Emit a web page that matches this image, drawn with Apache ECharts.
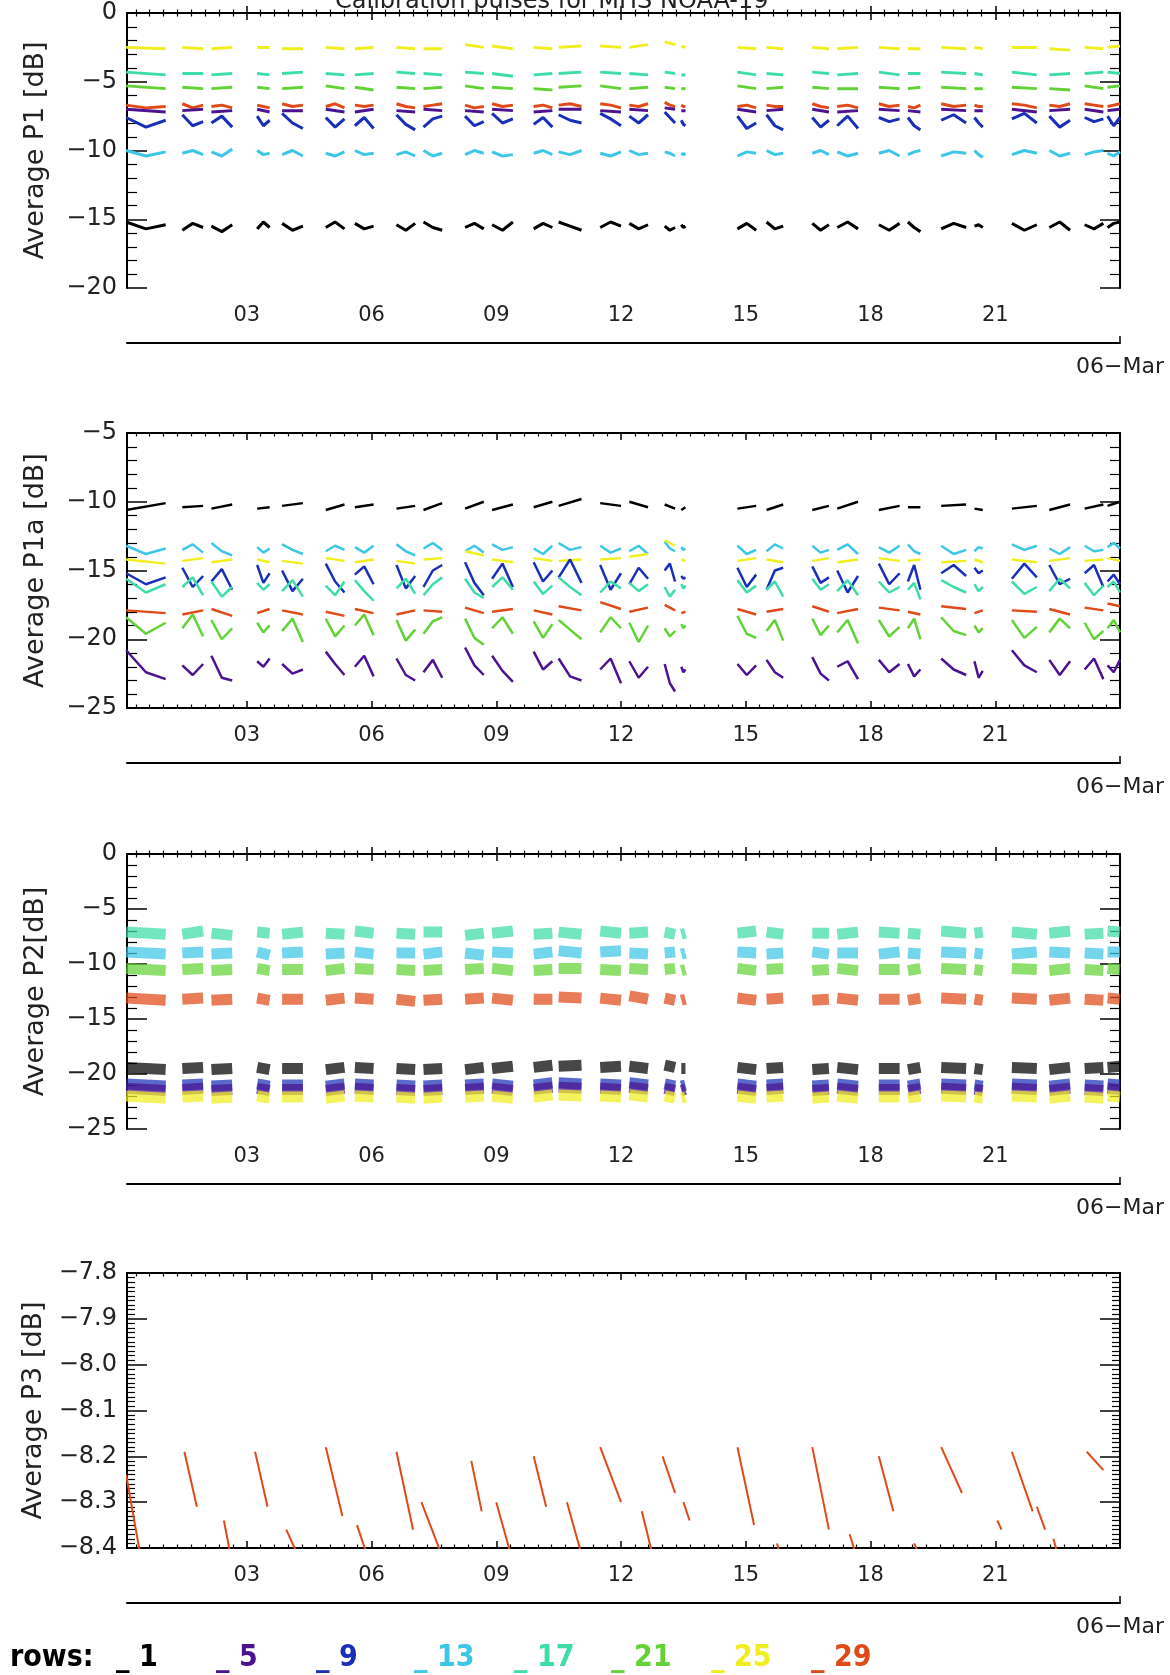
<!DOCTYPE html>
<html>
<head>
<meta charset="utf-8">
<script src="https://cdn.jsdelivr.net/npm/echarts@6/dist/echarts.min.js"></script>
<style>html,body{margin:0;padding:0;background:#fff}#c{width:1170px;height:1675px}</style>
</head>
<body>
<div id="c"></div>
<script>
// ---------- axis / tick labels ----------
const HOUR_MIN = 0.12, HOUR_MAX = 24.0;
const majorHours = [3, 6, 9, 12, 15, 18, 21];
const tickLabels = ['03', '06', '09', '12', '15', '18', '21'];
const dateLabel = '06\u2212Mar';
const rowNames = ['1', '5', '9', '13', '17', '21', '25', '29'];
const rowColors = ['#000000', '#4b1390', '#1a2fb8', '#3ec6e6', '#3edca6', '#62d236', '#f0ee1e', '#e04a18'];
const legendLeft = [105, 205, 305, 403, 503, 600, 700, 800];
const titleText = 'Calibration pulses for MHS NOAA-19';
const yTitles = ['Average P1 [dB]', 'Average P1a [dB]', 'Average P2[dB]', 'Average P3 [dB]'];

// ---------- data segments (hours of day) ----------
const segStart = [0.10, 1.45, 2.15, 3.25, 3.85, 4.90, 5.60, 6.60, 7.25, 8.25, 8.90, 9.90, 10.50, 11.50, 12.20, 13.05, 13.45, 14.80, 15.50, 16.60, 17.20, 18.20, 18.90, 19.70, 20.50, 21.40, 22.30, 23.15, 23.70];
const segEnd   = [1.05, 1.95, 2.65, 3.55, 4.35, 5.35, 6.05, 7.05, 7.70, 8.70, 9.40, 10.35, 11.05, 12.00, 12.65, 13.30, 13.55, 15.25, 15.90, 17.00, 17.70, 18.70, 19.20, 20.30, 20.70, 22.00, 22.80, 23.60, 24.00];

// ---------- P1 ----------
const p1_r25 = [[-2.5,-2.6],[-2.5,-2.6],[-2.6,-2.5],[-2.5,-2.5],[-2.6,-2.6],[-2.5,-2.6],[-2.6,-2.5],[-2.5,-2.6],[-2.6,-2.6],[-2.3,-2.5],[-2.4,-2.6],[-2.5,-2.6],[-2.5,-2.4],[-2.4,-2.5],[-2.5,-2.3],[-2.1,-2.3],[-2.4,-2.5],[-2.5,-2.6],[-2.5,-2.6],[-2.5,-2.6],[-2.6,-2.5],[-2.5,-2.6],[-2.6,-2.6],[-2.5,-2.6],[-2.5,-2.6],[-2.5,-2.5],[-2.6,-2.7],[-2.5,-2.6],[-2.5,-2.4]];
const p1_r17 = [[-4.3,-4.5],[-4.4,-4.4],[-4.5,-4.4],[-4.4,-4.5],[-4.4,-4.3],[-4.4,-4.5],[-4.5,-4.4],[-4.3,-4.4],[-4.4,-4.5],[-4.3,-4.4],[-4.4,-4.6],[-4.5,-4.4],[-4.4,-4.3],[-4.3,-4.4],[-4.4,-4.5],[-4.3,-4.4],[-4.5,-4.5],[-4.3,-4.5],[-4.4,-4.5],[-4.3,-4.4],[-4.5,-4.4],[-4.3,-4.5],[-4.4,-4.4],[-4.3,-4.4],[-4.4,-4.5],[-4.3,-4.5],[-4.5,-4.4],[-4.4,-4.3],[-4.3,-4.4]];
const p1_r21 = [[-5.3,-5.5],[-5.4,-5.5],[-5.5,-5.4],[-5.4,-5.5],[-5.5,-5.4],[-5.3,-5.5],[-5.4,-5.6],[-5.4,-5.5],[-5.5,-5.4],[-5.3,-5.5],[-5.4,-5.5],[-5.5,-5.6],[-5.4,-5.3],[-5.3,-5.5],[-5.5,-5.4],[-5.4,-5.5],[-5.5,-5.5],[-5.3,-5.5],[-5.5,-5.4],[-5.4,-5.5],[-5.5,-5.5],[-5.4,-5.5],[-5.5,-5.4],[-5.4,-5.5],[-5.5,-5.5],[-5.4,-5.5],[-5.5,-5.6],[-5.3,-5.5],[-5.4,-5.3]];
const p1_r29 = [[-6.7,-6.9,-6.8],[-6.6,-6.9,-6.7],[-6.8,-6.7,-6.9],[-6.7,-6.8,-6.9],[-6.6,-6.8,-6.7],[-6.8,-6.6,-6.9],[-6.7,-6.8,-6.7],[-6.6,-6.8,-6.9],[-6.8,-6.7,-6.6],[-6.7,-6.9,-6.8],[-6.6,-6.8,-6.7],[-6.8,-6.7,-6.9],[-6.7,-6.6,-6.8],[-6.6,-6.7,-6.9],[-6.7,-6.8,-6.6],[-6.5,-6.7,-6.8],[-6.7,-6.8,-6.8],[-6.8,-6.7,-6.9],[-6.7,-6.8,-6.8],[-6.6,-6.8,-6.9],[-6.8,-6.7,-6.9],[-6.6,-6.8,-6.7],[-6.8,-6.9,-6.7],[-6.6,-6.8,-6.7],[-6.7,-6.8,-6.8],[-6.6,-6.7,-6.9],[-6.7,-6.8,-6.6],[-6.6,-6.7,-6.8],[-6.8,-6.7,-6.6]];
const p1_r5  = [[-7.0,-7.2],[-7.1,-7.0],[-7.2,-7.1],[-7.0,-7.2],[-7.1,-7.1],[-7.0,-7.2],[-7.2,-7.0],[-7.1,-7.2],[-7.0,-7.1],[-7.1,-7.2],[-7.0,-7.1],[-7.2,-7.1],[-7.0,-7.0],[-7.1,-7.2],[-7.0,-7.1],[-6.9,-7.0],[-7.1,-7.1],[-7.0,-7.2],[-7.1,-7.0],[-7.0,-7.2],[-7.2,-7.1],[-7.0,-7.1],[-7.1,-7.2],[-7.0,-7.1],[-7.1,-7.1],[-7.0,-7.2],[-7.1,-7.0],[-7.0,-7.2],[-7.1,-7.0]];
const p1_r9  = [[-7.6,-8.3,-7.8],[-7.4,-8.2,-7.9],[-8.0,-7.5,-8.3],[-7.5,-8.2,-7.8],[-7.3,-8.0,-8.4],[-7.6,-8.3,-7.7],[-8.2,-7.6,-8.4],[-7.4,-8.1,-8.5],[-8.3,-7.7,-7.5],[-7.5,-8.2,-7.9],[-7.3,-8.0,-7.7],[-8.1,-7.6,-8.3],[-7.4,-7.8,-8.0],[-7.3,-7.7,-8.2],[-7.5,-8.0,-7.4],[-7.2,-7.6,-8.0],[-7.8,-8.1,-8.2],[-7.5,-8.4,-8.0],[-7.4,-8.2,-8.5],[-7.6,-8.3,-7.8],[-8.2,-7.5,-8.4],[-7.6,-7.9,-7.7],[-7.6,-8.2,-8.5],[-7.8,-7.4,-8.0],[-7.6,-8.0,-8.3],[-7.7,-7.3,-8.0],[-7.5,-8.3,-7.8],[-7.6,-7.9,-7.7],[-7.5,-8.2,-7.6]];
const p1_r13 = [[-10.0,-10.4,-10.1],[-10.2,-10.0,-10.3],[-10.1,-10.4,-9.9],[-10.0,-10.3,-10.2],[-10.3,-10.0,-10.4],[-10.2,-10.4,-10.1],[-10.0,-10.3,-10.2],[-10.3,-10.1,-10.4],[-10.0,-10.4,-10.2],[-10.3,-10.0,-10.2],[-10.1,-10.4,-10.3],[-10.2,-10.0,-10.3],[-10.1,-10.3,-10.0],[-10.2,-10.4,-10.1],[-10.0,-10.3,-10.2],[-10.1,-10.2,-10.4],[-10.2,-10.3,-10.2],[-10.4,-10.1,-10.2],[-10.0,-10.3,-10.2],[-10.2,-10.0,-10.3],[-10.1,-10.4,-10.2],[-10.2,-10.0,-10.4],[-10.3,-10.1,-10.0],[-10.4,-10.1,-10.2],[-10.0,-10.3,-10.5],[-10.3,-10.0,-10.2],[-10.0,-10.4,-10.2],[-10.3,-10.1,-10.0],[-10.2,-10.4,-10.1]];
const p1_r1  = [[-15.2,-15.7,-15.4],[-15.8,-15.3,-15.6],[-15.5,-15.9,-15.4],[-15.7,-15.2,-15.6],[-15.3,-15.8,-15.5],[-15.6,-15.2,-15.7],[-15.3,-15.7,-15.5],[-15.4,-15.8,-15.3],[-15.2,-15.6,-15.8],[-15.6,-15.3,-15.7],[-15.4,-15.8,-15.2],[-15.7,-15.3,-15.6],[-15.2,-15.5,-15.8],[-15.6,-15.2,-15.5],[-15.3,-15.7,-15.4],[-15.5,-15.8,-15.6],[-15.4,-15.6,-15.5],[-15.7,-15.3,-15.8],[-15.2,-15.7,-15.5],[-15.3,-15.8,-15.4],[-15.6,-15.2,-15.7],[-15.4,-15.8,-15.3],[-15.2,-15.6,-15.9],[-15.7,-15.3,-15.6],[-15.5,-15.4,-15.6],[-15.3,-15.8,-15.4],[-15.6,-15.2,-15.8],[-15.4,-15.7,-15.3],[-15.6,-15.3,-15.2]];

// ---------- P1a ----------
const p1a_r1  = [[-10.6,-10.1],[-10.4,-10.3],[-10.5,-10.2],[-10.5,-10.4],[-10.3,-10.1],[-10.6,-10.2],[-10.4,-10.2],[-10.5,-10.3],[-10.6,-10.1],[-10.5,-10.0],[-10.6,-10.2],[-10.4,-10.0],[-10.3,-9.8],[-10.1,-10.3],[-10.0,-10.4],[-10.2,-10.5],[-10.6,-10.4],[-10.5,-10.3],[-10.6,-10.2],[-10.6,-10.3],[-10.5,-10.0],[-10.6,-10.3],[-10.4,-10.4],[-10.3,-10.2],[-10.5,-10.6],[-10.5,-10.3],[-10.6,-10.2],[-10.5,-10.2],[-10.3,-10.0]];
const p1a_r13 = [[-13.2,-13.8,-13.4],[-13.5,-13.1,-13.7],[-13.0,-13.6,-13.9],[-13.3,-13.7,-13.4],[-13.1,-13.5,-13.8],[-13.6,-13.2,-13.5],[-13.3,-13.7,-13.2],[-13.1,-13.6,-13.9],[-13.4,-13.0,-13.5],[-13.6,-13.2,-13.7],[-13.1,-13.5,-13.3],[-13.4,-13.8,-13.2],[-13.0,-13.5,-13.3],[-13.2,-13.7,-13.4],[-13.6,-13.2,-13.8],[-12.9,-13.4,-13.6],[-13.3,-13.5,-13.4],[-13.2,-13.8,-13.5],[-13.6,-13.1,-13.4],[-13.2,-13.7,-13.5],[-13.5,-13.1,-13.8],[-13.3,-13.7,-13.2],[-13.1,-13.6,-13.8],[-13.2,-13.8,-13.5],[-13.6,-13.3,-13.4],[-13.1,-13.5,-13.2],[-13.4,-13.8,-13.3],[-13.2,-13.6,-13.5],[-13.3,-13.0,-13.4]];
const p1a_r25 = [[-14.2,-14.5],[-14.3,-14.1],[-14.4,-14.2],[-14.2,-14.4],[-14.3,-14.5],[-14.1,-14.3],[-14.4,-14.2],[-14.3,-14.5],[-14.2,-14.1],[-13.6,-13.9],[-14.2,-14.4],[-14.1,-14.3],[-14.3,-14.2],[-14.2,-14.1],[-14.0,-13.8],[-12.8,-13.2],[-14.2,-14.3],[-14.3,-14.1],[-14.2,-14.4],[-14.3,-14.1],[-14.4,-14.2],[-14.1,-14.3],[-14.3,-14.2],[-14.4,-14.3],[-14.2,-14.4],[-14.2,-14.4],[-14.3,-14.1],[-14.3,-14.2],[-14.1,-14.3]];
const p1a_r9  = [[-15.2,-16.0,-15.5],[-14.8,-16.2,-15.4],[-15.8,-14.9,-16.4],[-14.6,-15.9,-15.2],[-15.0,-16.5,-15.6],[-14.5,-15.8,-16.6],[-15.3,-14.7,-16.0],[-14.6,-16.3,-15.4],[-16.2,-15.0,-14.6],[-14.4,-15.9,-16.8],[-15.6,-14.5,-16.2],[-14.4,-15.8,-15.0],[-15.5,-14.2,-15.9],[-14.6,-16.4,-15.2],[-16.0,-14.8,-15.6],[-15.0,-14.5,-15.8],[-15.4,-15.6,-15.5],[-14.8,-16.2,-15.3],[-16.4,-15.0,-14.8],[-14.7,-15.9,-15.5],[-15.0,-16.6,-15.4],[-14.5,-16.0,-15.2],[-15.8,-14.6,-16.4],[-15.2,-14.6,-15.4],[-14.8,-15.2,-15.0],[-15.6,-14.5,-15.5],[-14.6,-16.0,-15.6],[-15.2,-14.6,-16.2],[-15.8,-15.3,-16.0]];
const p1a_r17 = [[-15.6,-16.6,-16.0],[-16.2,-15.5,-16.8],[-15.8,-16.9,-16.2],[-15.9,-16.4,-16.0],[-16.5,-15.7,-16.9],[-16.1,-16.8,-15.8],[-15.7,-16.5,-17.2],[-16.3,-15.6,-16.7],[-16.8,-16.0,-15.5],[-15.6,-16.6,-17.0],[-16.2,-15.5,-16.4],[-15.8,-16.7,-16.1],[-15.5,-16.2,-16.8],[-16.6,-15.8,-16.3],[-15.9,-16.5,-16.0],[-16.2,-16.9,-16.4],[-16.0,-16.3,-16.1],[-15.7,-16.6,-16.1],[-16.4,-15.8,-16.9],[-15.6,-16.4,-16.0],[-16.5,-15.7,-16.8],[-15.8,-16.6,-16.2],[-16.4,-15.9,-17.1],[-15.7,-16.2,-16.6],[-16.0,-16.5,-16.2],[-15.8,-16.7,-16.2],[-16.5,-15.6,-16.3],[-15.9,-16.8,-16.1],[-16.2,-15.8,-16.6]];
const p1a_r29 = [[-17.9,-18.1],[-18.2,-17.9],[-17.8,-18.3],[-18.1,-17.8],[-17.9,-18.2],[-18.0,-18.3],[-17.8,-18.1],[-18.2,-17.9],[-17.9,-18.0],[-17.7,-18.1],[-18.0,-17.8],[-17.9,-18.2],[-17.6,-17.9],[-17.3,-17.8],[-18.0,-17.7],[-17.5,-17.9],[-18.1,-18.0],[-17.8,-18.2],[-18.0,-17.8],[-17.6,-18.0],[-18.1,-17.8],[-17.7,-17.9],[-18.0,-18.2],[-17.6,-17.8],[-18.1,-17.9],[-17.9,-18.0],[-17.8,-18.2],[-17.7,-17.9],[-17.4,-17.6]];
const p1a_r21 = [[-18.4,-19.6,-18.8],[-19.2,-18.2,-19.8],[-18.6,-20.0,-19.2],[-18.8,-19.5,-19.0],[-19.4,-18.5,-20.2],[-18.5,-19.8,-19.0],[-19.0,-18.2,-19.7],[-18.6,-20.1,-19.3],[-19.6,-18.7,-18.4],[-18.5,-19.9,-20.4],[-19.2,-18.4,-19.6],[-18.7,-19.9,-18.9],[-18.6,-19.3,-20.0],[-19.5,-18.4,-19.2],[-18.8,-20.2,-19.0],[-19.2,-19.8,-19.4],[-18.9,-19.2,-19.0],[-18.3,-19.6,-19.9],[-19.4,-18.6,-20.1],[-18.5,-19.7,-19.0],[-19.5,-18.6,-20.3],[-18.6,-19.8,-19.1],[-19.2,-18.5,-20.0],[-18.4,-19.4,-19.7],[-19.0,-19.5,-19.2],[-18.6,-19.9,-19.1],[-19.5,-18.5,-19.2],[-18.8,-20.0,-19.4],[-19.2,-18.6,-19.5]];
const p1a_r5  = [[-20.8,-22.4,-22.9],[-21.9,-22.6,-21.8],[-21.2,-22.8,-23.0],[-21.6,-22.0,-21.4],[-21.8,-22.5,-22.2],[-20.9,-21.8,-22.6],[-22.0,-21.2,-22.7],[-21.4,-22.6,-23.0],[-22.4,-21.5,-22.8],[-20.6,-21.9,-22.6],[-21.2,-22.3,-23.1],[-20.9,-22.2,-21.6],[-21.4,-22.7,-23.0],[-22.2,-21.4,-23.2],[-21.6,-22.8,-22.0],[-21.8,-23.2,-23.8],[-22.0,-22.4,-22.2],[-21.8,-22.6,-21.9],[-21.5,-22.4,-22.8],[-21.3,-22.5,-23.0],[-22.0,-21.6,-22.9],[-21.5,-22.4,-21.8],[-21.8,-22.7,-22.2],[-21.4,-22.2,-22.6],[-21.6,-22.8,-22.3],[-20.8,-21.9,-22.4],[-21.5,-22.6,-21.6],[-22.2,-21.4,-22.9],[-21.9,-22.4,-21.5]];

// ---------- P2 ----------
const p2_r17 = [[-7.1,-7.3],[-7.3,-7.0],[-7.2,-7.4],[-7.1,-7.2],[-7.3,-7.1],[-7.2,-7.3],[-7.0,-7.2],[-7.2,-7.3],[-7.1,-7.1],[-7.4,-7.2],[-7.2,-7.0],[-7.3,-7.2],[-7.1,-7.3],[-7.0,-7.2],[-7.2,-7.1],[-7.1,-7.3],[-7.3,-7.2],[-7.2,-7.0],[-7.1,-7.3],[-7.2,-7.2],[-7.3,-7.1],[-7.1,-7.2],[-7.2,-7.3],[-7.0,-7.2],[-7.2,-7.1],[-7.1,-7.3],[-7.2,-7.0],[-7.3,-7.2],[-7.0,-7.1]];
const p2_r13 = [[-8.9,-9.1],[-9.0,-8.9],[-9.1,-9.0],[-8.9,-9.2],[-9.0,-8.9],[-9.1,-9.0],[-8.9,-9.1],[-9.0,-9.0],[-9.1,-8.9],[-9.0,-9.2],[-8.9,-9.0],[-9.1,-8.9],[-8.8,-9.0],[-8.9,-8.8],[-9.0,-9.1],[-9.0,-8.9],[-9.1,-9.0],[-8.9,-9.0],[-9.1,-9.0],[-8.9,-9.1],[-9.0,-9.0],[-9.1,-8.9],[-9.0,-9.1],[-8.9,-9.0],[-9.0,-9.1],[-9.1,-8.9],[-8.9,-9.0],[-9.0,-9.1],[-8.9,-8.9]];
const p2_r21 = [[-10.4,-10.6],[-10.5,-10.4],[-10.6,-10.5],[-10.4,-10.6],[-10.5,-10.5],[-10.6,-10.4],[-10.4,-10.5],[-10.5,-10.6],[-10.6,-10.5],[-10.5,-10.4],[-10.4,-10.6],[-10.6,-10.5],[-10.4,-10.4],[-10.5,-10.6],[-10.4,-10.5],[-10.5,-10.4],[-10.6,-10.5],[-10.4,-10.6],[-10.5,-10.4],[-10.6,-10.5],[-10.4,-10.6],[-10.5,-10.5],[-10.6,-10.4],[-10.4,-10.5],[-10.5,-10.6],[-10.4,-10.5],[-10.6,-10.4],[-10.5,-10.6],[-10.4,-10.5]];
const p2_r29 = [[-13.1,-13.3],[-13.2,-13.1],[-13.3,-13.2],[-13.1,-13.3],[-13.2,-13.2],[-13.3,-13.1],[-13.1,-13.2],[-13.2,-13.4],[-13.3,-13.2],[-13.2,-13.1],[-13.1,-13.3],[-13.2,-13.2],[-13.0,-13.1],[-13.1,-13.3],[-12.9,-13.2],[-13.1,-13.3],[-13.3,-13.2],[-13.1,-13.3],[-13.2,-13.1],[-13.3,-13.2],[-13.1,-13.3],[-13.2,-13.2],[-13.3,-13.1],[-13.1,-13.2],[-13.2,-13.3],[-13.1,-13.2],[-13.3,-13.1],[-13.2,-13.3],[-13.1,-13.2]];
const p2_r1  = [[-19.4,-19.6],[-19.5,-19.4],[-19.6,-19.5],[-19.4,-19.6],[-19.5,-19.5],[-19.6,-19.4],[-19.4,-19.5],[-19.5,-19.6],[-19.6,-19.5],[-19.6,-19.4],[-19.5,-19.3],[-19.4,-19.2],[-19.3,-19.2],[-19.4,-19.3],[-19.3,-19.5],[-19.2,-19.4],[-19.5,-19.5],[-19.4,-19.6],[-19.5,-19.4],[-19.6,-19.5],[-19.4,-19.6],[-19.5,-19.5],[-19.6,-19.4],[-19.4,-19.5],[-19.5,-19.6],[-19.4,-19.5],[-19.6,-19.4],[-19.5,-19.4],[-19.4,-19.3]];
const p2_r9  = [[-20.9,-21.1],[-21.0,-20.9],[-21.1,-21.0],[-20.9,-21.1],[-21.0,-21.0],[-21.1,-20.9],[-20.9,-21.0],[-21.0,-21.1],[-21.1,-21.0],[-21.0,-20.9],[-20.9,-21.1],[-21.0,-20.8],[-20.8,-20.9],[-20.9,-21.0],[-20.8,-21.0],[-20.9,-21.1],[-21.1,-21.0],[-20.9,-21.1],[-21.0,-20.9],[-21.1,-21.0],[-20.9,-21.1],[-21.0,-21.0],[-21.1,-20.9],[-20.9,-21.0],[-21.0,-21.1],[-20.9,-21.0],[-21.1,-20.9],[-21.0,-21.1],[-20.9,-21.0]];
const p2_r5  = [[-21.3,-21.5],[-21.4,-21.3],[-21.5,-21.4],[-21.3,-21.5],[-21.4,-21.4],[-21.5,-21.3],[-21.3,-21.4],[-21.4,-21.5],[-21.5,-21.4],[-21.4,-21.3],[-21.3,-21.5],[-21.4,-21.2],[-21.2,-21.3],[-21.3,-21.4],[-21.2,-21.4],[-21.3,-21.5],[-21.5,-21.4],[-21.3,-21.5],[-21.4,-21.3],[-21.5,-21.4],[-21.3,-21.5],[-21.4,-21.4],[-21.5,-21.3],[-21.3,-21.4],[-21.4,-21.5],[-21.3,-21.4],[-21.5,-21.3],[-21.4,-21.5],[-21.3,-21.4]];
const p2_r25 = [[-22.0,-22.2],[-22.1,-22.0],[-22.2,-22.1],[-22.0,-22.2],[-22.1,-22.1],[-22.2,-22.0],[-22.0,-22.1],[-22.1,-22.2],[-22.2,-22.1],[-22.1,-22.0],[-22.0,-22.2],[-22.1,-21.9],[-21.9,-22.0],[-22.0,-22.1],[-21.9,-22.1],[-22.0,-22.2],[-22.2,-22.1],[-22.0,-22.2],[-22.1,-22.0],[-22.2,-22.1],[-22.0,-22.2],[-22.1,-22.1],[-22.2,-22.0],[-22.0,-22.1],[-22.1,-22.2],[-22.0,-22.1],[-22.2,-22.0],[-22.1,-22.2],[-22.0,-22.1]];

// ---------- P3 (row 29 only) ----------
const p3Times  = [[0.10,0.45],[1.50,1.80],[2.45,2.62],[3.20,3.50],[3.95,4.30],[4.90,5.30],[5.65,5.95],[6.60,7.00],[7.20,7.75],[8.40,8.65],[9.00,9.40],[9.90,10.20],[10.70,11.10],[11.50,12.00],[12.50,12.80],[13.00,13.30],[13.50,13.65],[14.80,15.20],[15.75,15.85],[16.60,17.00],[17.50,17.70],[18.20,18.55],[19.05,19.20],[19.70,20.20],[21.05,21.15],[21.40,21.90],[22.00,22.20],[22.40,22.55],[23.20,23.60]];
const p3Values = [[-8.24,-8.42],[-8.19,-8.31],[-8.34,-8.42],[-8.19,-8.31],[-8.36,-8.43],[-8.18,-8.33],[-8.35,-8.43],[-8.19,-8.36],[-8.30,-8.43],[-8.21,-8.32],[-8.30,-8.43],[-8.20,-8.31],[-8.30,-8.43],[-8.18,-8.30],[-8.32,-8.43],[-8.20,-8.28],[-8.30,-8.34],[-8.18,-8.35],[-8.39,-8.42],[-8.18,-8.36],[-8.37,-8.43],[-8.20,-8.32],[-8.39,-8.42],[-8.18,-8.28],[-8.34,-8.36],[-8.19,-8.32],[-8.31,-8.36],[-8.38,-8.43],[-8.19,-8.23]];

// ---------- build ----------
const colorOf = n => rowColors[rowNames.indexOf(n)];
const panels = [
  {rows: [['25',p1_r25],['17',p1_r17],['21',p1_r21],['29',p1_r29],['5',p1_r5],['9',p1_r9],['13',p1_r13],['1',p1_r1]], yMin:-20, yMax:0, yInt:5, ySplit:5, lw:3, op:1},
  {rows: [['1',p1a_r1],['13',p1a_r13],['25',p1a_r25],['9',p1a_r9],['17',p1a_r17],['29',p1a_r29],['21',p1a_r21],['5',p1a_r5]], yMin:-25, yMax:-5, yInt:5, ySplit:5, lw:2.5, op:1},
  {rows: [['17',p2_r17],['13',p2_r13],['21',p2_r21],['29',p2_r29],['1',p2_r1],['9',p2_r9],['5',p2_r5],['25',p2_r25]], yMin:-25, yMax:0, yInt:5, ySplit:5, lw:11, op:0.72},
  {rows: [], yMin:-8.4, yMax:-7.8, yInt:0.1, ySplit:10, lw:2, op:1}
];
const tops = [13, 433, 854, 1273];
const H = 275;

const minorHours = [];
for (let k = 1; k < 72; k++) if (k % 9 !== 0) minorHours.push(k / 3);

const FONT = 'DejaVu Sans';
const grid = [], xAxis = [], yAxis = [], series = [];
const fmtY = (v, dec) => { const s = dec ? Math.abs(v).toFixed(1) : String(Math.abs(Math.round(v))); return (v < -1e-9 ? '\u2212' : '') + s; };

panels.forEach((p, g) => {
  grid.push({left: 127, width: 993, top: tops[g], height: H, containLabel: false});
  const base = {gridIndex: g, type: 'value', min: HOUR_MIN, max: HOUR_MAX, splitLine: {show: false}};
  const line = {show: true, lineStyle: {color: '#000', width: 2}};
  xAxis.push(Object.assign({}, base, {position: 'bottom', offset: 0, axisLine: line,
    axisTick: {show: true, inside: true, length: 7, customValues: majorHours, lineStyle: {color: '#000', width: 1.5}},
    axisLabel: {show: true, customValues: majorHours, margin: 17, fontFamily: FONT, fontSize: 21, color: '#222',
      formatter: v => tickLabels[majorHours.findIndex(h => Math.abs(h - v) < 1e-6)] || ''}}));
  xAxis.push(Object.assign({}, base, {position: 'bottom', offset: 0, axisLine: {show: false},
    axisTick: {show: true, inside: true, length: 3.5, customValues: minorHours, lineStyle: {color: '#000', width: 1.2}},
    axisLabel: {show: false}}));
  xAxis.push(Object.assign({}, base, {position: 'top', offset: 0, axisLine: line,
    axisTick: {show: true, inside: true, length: 7, customValues: majorHours, lineStyle: {color: '#000', width: 1.5}},
    axisLabel: {show: false}}));
  xAxis.push(Object.assign({}, base, {position: 'top', offset: 0, axisLine: {show: false},
    axisTick: {show: true, inside: true, length: 3.5, customValues: minorHours, lineStyle: {color: '#000', width: 1.2}},
    axisLabel: {show: false}}));
  xAxis.push(Object.assign({}, base, {position: 'bottom', offset: 55, axisLine: line,
    axisTick: {show: true, inside: true, length: 7, customValues: [HOUR_MAX], lineStyle: {color: '#000', width: 1.5}},
    axisLabel: {show: true, customValues: [HOUR_MAX], margin: 13, fontFamily: FONT, fontSize: 22, color: '#222', formatter: () => dateLabel}}));

  const dec = p.yInt < 1;
  const ybase = {gridIndex: g, type: 'value', min: p.yMin, max: p.yMax, interval: p.yInt, splitLine: {show: false},
    axisLine: line, axisTick: {show: true, inside: true, length: 20, lineStyle: {color: '#000', width: 1.5}},
    minorTick: {show: true, splitNumber: p.ySplit, length: dec ? 8 : 10, lineStyle: {color: '#000', width: 1.2}}};
  yAxis.push(Object.assign({}, ybase, {position: 'left',
    axisLabel: {show: true, margin: 10, fontFamily: FONT, fontSize: 24, color: '#222', formatter: v => fmtY(v, dec)},
    name: yTitles[g], nameLocation: 'middle', nameGap: 78, nameTextStyle: {fontFamily: FONT, fontSize: 27, color: '#222'}}));
  yAxis.push(Object.assign({}, ybase, {position: 'right', axisLabel: {show: false}}));

  p.rows.forEach(([name, vals]) => {
    const data = [];
    vals.forEach((v, i) => {
      const s = segStart[i], e = segEnd[i], n = v.length;
      v.forEach((y, k) => data.push([s + (e - s) * k / (n - 1), y]));
      data.push([e + 0.01, '-']);
    });
    series.push({name, type: 'line', xAxisIndex: g * 5, yAxisIndex: g * 2, data, showSymbol: false, symbol: 'none',
      connectNulls: false, clip: true, animation: false, silent: true,
      lineStyle: {color: colorOf(name), width: p.lw, opacity: p.op}, itemStyle: {color: colorOf(name)}});
  });
});

// P3 series
(function () {
  const data = [];
  p3Times.forEach((t, i) => {
    data.push([t[0], p3Values[i][0]]);
    data.push([t[1], p3Values[i][1]]);
    data.push([t[1] + 0.01, '-']);
  });
  series.push({name: '29', type: 'line', xAxisIndex: 15, yAxisIndex: 6, data, showSymbol: false, symbol: 'none',
    connectNulls: false, clip: true, animation: false, silent: true,
    lineStyle: {color: colorOf('29'), width: 2}, itemStyle: {color: colorOf('29')}});
})();

const legendFont = "'DejaVu Sans Condensed', 'DejaVu Sans', sans-serif";
const legends = rowNames.map((n, i) => ({
  left: legendLeft[i], top: 1638, orient: 'horizontal', icon: 'none', itemWidth: 1, itemHeight: 1, selectedMode: false,
  formatter: nm => '_ ' + nm,
  textStyle: {fontFamily: legendFont, fontSize: 30, fontWeight: 'bold', color: rowColors[i]},
  data: [{name: n, textStyle: {color: rowColors[i]}}]
}));

const option = {
  backgroundColor: '#fff',
  animation: false,
  title: [
    {text: titleText, left: 330, top: -15, textStyle: {fontFamily: FONT, fontSize: 24, fontWeight: 'normal', color: '#222'}},
    {text: 'rows:', left: 5, top: 1638, textStyle: {fontFamily: legendFont, fontSize: 30, fontWeight: 'bold', color: '#000'}}
  ],
  legend: legends,
  grid, xAxis, yAxis, series
};
const chart = echarts.init(document.getElementById('c'), null, {renderer: 'canvas'});
chart.setOption(option);
</script>
</body>
</html>
